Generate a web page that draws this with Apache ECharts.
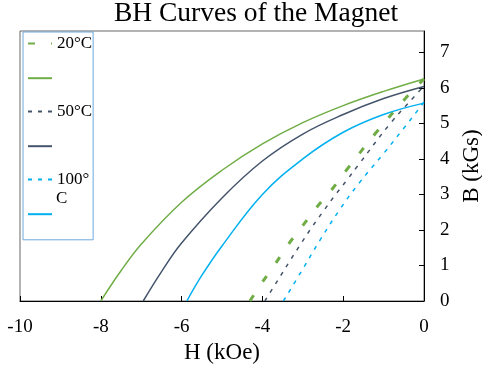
<!DOCTYPE html>
<html>
<head>
<meta charset="utf-8">
<script src="https://cdn.jsdelivr.net/npm/echarts@6/dist/echarts.min.js"></script>
<style>html,body{margin:0;padding:0;background:#fff}#c{width:482px;height:367px}</style>
</head>
<body>
<div id="c"></div>
<script>
// Data (H in kOe, B in kGs)
var green_dashed = [[-4.31,0],[-4.02,0.5],[-3.69,1.03],[-3.36,1.59],[-3.03,2.08],[-2.66,2.63],[-2.28,3.14],[-1.93,3.67],[-1.2,4.72],[-0.43,5.74],[0,6.25]];
var green_solid = [[-8,0],[-7.5,0.85],[-7,1.6],[-6,2.78],[-5,3.68],[-4,4.42],[-3,5.02],[-2,5.5],[-1,5.9],[0,6.25]];
var gray_dashed = [[-3.94,0],[-3.61,0.6],[-3.32,1.13],[-3.07,1.57],[-2.78,2.07],[-2.49,2.53],[-2.2,2.98],[-1.91,3.4],[-1.63,3.82],[-0.84,4.99],[-0.18,5.83],[0,6.05]];
var gray_solid = [[-6.95,0],[-6.5,0.82],[-6,1.63],[-5,2.9],[-4,3.94],[-3,4.7],[-2,5.25],[-1,5.7],[0,6.04]];
var blue_dashed = [[-3.48,0],[-3.0,0.9],[-2.57,1.72],[-2.1,2.55],[-1.62,3.3],[-1.0,4.15],[-0.51,4.85],[-0.18,5.33],[0,5.6]];
var blue_solid = [[-5.87,0],[-5.5,0.72],[-5,1.55],[-4,3.0],[-3,4.0],[-2,4.75],[-1,5.25],[0,5.57]];

var seriesNames = ['20dash','20solid','50dash','50solid','100dash','100solid'];
// legend labels; the third label wraps in the reference ("100°" / "C")
var legendLabels = ['20°C','','50°C','','100°',''];
var legendWrap = 'C';
var xTicks = [-10,-8,-6,-4,-2,0];
var yTicks = [0,1,2,3,4,5,6,7];

var GREEN = '#70ad47', GRAY = '#44546a', BLUE = '#00b0f0';
var FONT = '"Liberation Serif", "Times New Roman", serif';

function line(name, data, color, width, dash) {
  return {
    name: name, type: 'line', data: data, symbol: 'none', smooth: 0.4,
    lineStyle: {color: color, width: width, type: dash || 'solid'},
    itemStyle: {color: color}
  };
}

var chart = echarts.init(document.getElementById('c'), null, {renderer: 'canvas'});
chart.setOption({
  animation: false,
  backgroundColor: '#fff',
  title: {
    text: 'BH Curves of the Magnet', left: 251, top: -5, textAlign: 'center',
    textStyle: {fontFamily: FONT, fontSize: 27.5, fontWeight: 'normal', color: '#000'}
  },
  grid: {left: 20, right: 58, top: 31, bottom: 66, show: true, borderColor: '#666', borderWidth: 1, outerBoundsMode: 'none', containLabel: false},
  legend: {
    orient: 'vertical', left: 23, top: 32,
    padding: [3, 1, 20, 4],
    itemWidth: 24, itemHeight: 14, itemGap: 19.2,
    borderColor: '#6fa8dc', borderWidth: 1,
    itemStyle: {opacity: 0},
    data: seriesNames,
    formatter: function (n) { return legendLabels[seriesNames.indexOf(n)]; },
    textStyle: {fontFamily: FONT, fontSize: 17, color: '#000'}
  },
  graphic: [{
    type: 'text', left: 56, top: 190,
    style: {text: legendWrap, font: '17px ' + FONT, fill: '#000'}
  }],
  xAxis: {
    type: 'value', min: xTicks[0], max: xTicks[xTicks.length - 1], interval: 2,
    name: 'H (kOe)', nameLocation: 'middle', nameGap: 36,
    nameTextStyle: {fontFamily: FONT, fontSize: 23, color: '#000'},
    axisLine: {lineStyle: {color: '#000', width: 1}},
    axisTick: {inside: true, length: 5, lineStyle: {color: '#000'}},
    splitLine: {show: false},
    axisLabel: {fontFamily: FONT, fontSize: 19, color: '#000', margin: 17}
  },
  yAxis: {
    type: 'value', position: 'right', min: yTicks[0], max: 7.6, interval: 1,
    name: 'B (kGs)', nameLocation: 'middle', nameGap: 35, nameRotate: 90,
    nameTextStyle: {fontFamily: FONT, fontSize: 23, color: '#000'},
    axisLine: {show: true, lineStyle: {color: '#000', width: 1}},
    axisTick: {show: true, inside: true, length: 5, lineStyle: {color: '#000'}},
    splitLine: {show: false},
    axisLabel: {fontFamily: FONT, fontSize: 19, color: '#000', margin: 16, showMaxLabel: false}
  },
  series: [
    line(seriesNames[0], green_dashed, GREEN, 3, [7, 16]),
    line(seriesNames[1], green_solid, GREEN, 1.5),
    line(seriesNames[2], gray_dashed, GRAY, 1.5, [4, 6]),
    line(seriesNames[3], gray_solid, GRAY, 1.5),
    line(seriesNames[4], blue_dashed, BLUE, 1.5, [4, 6]),
    line(seriesNames[5], blue_solid, BLUE, 1.5)
  ]
});
</script>
</body>
</html>
